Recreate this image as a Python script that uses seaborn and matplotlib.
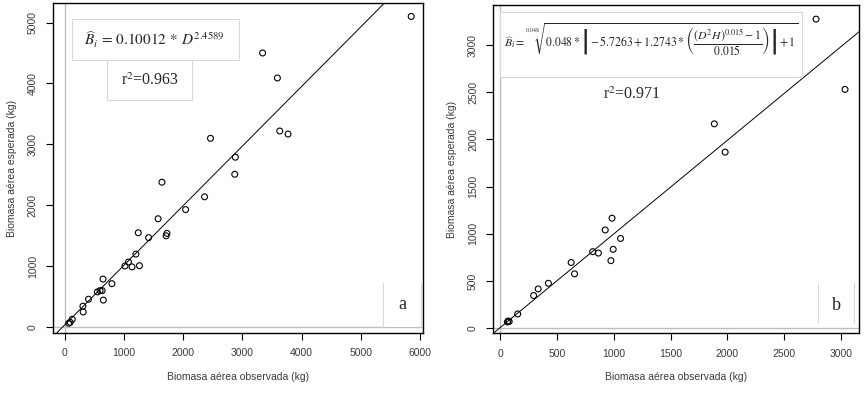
import numpy as np
import pandas as pd
import matplotlib
matplotlib.use('Agg')
import matplotlib.pyplot as plt
import seaborn as sns

# panel a: observed vs expected biomass (kg)
obs_a = [5850, 3340, 3590, 3630, 3770, 2460, 2880, 2870, 2360, 2040, 1640, 1575,
         1725, 1710, 1240, 1415, 1200, 1075, 1015, 1135, 1260, 645, 795, 550, 595,
         630, 650, 400, 305, 310, 125, 90, 65]
esp_a = [5100, 4500, 4090, 3220, 3170, 3100, 2790, 2510, 2140, 1930, 2380, 1780,
         1540, 1500, 1550, 1470, 1200, 1070, 1005, 990, 1010, 790, 715, 580, 600,
         600, 445, 460, 345, 250, 130, 80, 65]
# panel b
obs_b = [2780, 3035, 1885, 1980, 985, 925, 1060, 995, 815, 865, 975, 625, 655,
         425, 335, 295, 155, 80, 65, 70]
esp_b = [3275, 2530, 2165, 1865, 1165, 1040, 950, 835, 810, 795, 715, 695, 575,
         475, 415, 345, 150, 70, 65, 75]

# fitted lines (intercept, slope)
line_a = (40, 0.978)
line_b = (5, 0.993)

eq_a = r'$\widehat{B}_i\, =\, 0.10012\, *\, D^{2.4589}$'
eq_b = (r'$\widehat{B}_i = \sqrt[0.048]{0.048 * \left|-5.7263 + 1.2743 * '
        r'\left(\dfrac{(D^2H)^{0.015} - 1}{0.015}\right)\right| + 1}$')
r2_a = 'r$^2$=0.963'
r2_b = 'r$^2$=0.971'

sns.set_style('white')
plt.rcParams['font.family'] = ['Liberation Sans Narrow', 'Liberation Sans', 'DejaVu Sans']
plt.rcParams['mathtext.fontset'] = 'stix'

fig = plt.figure(figsize=(8.66, 3.98), dpi=100)
ax1 = fig.add_axes([0.0612, 0.1633, 0.4273, 0.8291])
ax2 = fig.add_axes([0.5696, 0.1626, 0.4226, 0.8249])

txt = '#3a3a3a'
box = '#d8d8d8'
serif = ['Liberation Serif', 'DejaVu Serif']


def panel(ax, x, y, line, xlim, ylim, xt, yt):
    ax.axhline(0, color='#bdbdbd', lw=1.0, zorder=1)
    ax.axvline(0, color='#bdbdbd', lw=1.0, zorder=1)
    ax.axline((0, line[0]), slope=line[1], color='black', lw=0.7, zorder=2)
    df = pd.DataFrame({'obs': x, 'esp': y})
    sns.scatterplot(data=df, x='obs', y='esp', ax=ax, marker='o', s=18,
                    facecolor='none', edgecolor='black', linewidth=0.8, zorder=3)
    ax.set_xlim(*xlim)
    ax.set_ylim(*ylim)
    ax.set_xticks(xt)
    ax.set_yticks(yt)
    ax.tick_params(direction='out', length=5, width=0.8, color='black',
                   labelsize=7.5, labelcolor=txt, pad=6, bottom=True, left=True)
    ax.tick_params(axis='y', labelrotation=90)
    for lab in ax.get_yticklabels():
        lab.set_va('center')
    for s in ax.spines.values():
        s.set_color('black')
        s.set_linewidth(1.0)
    ax.set_xlabel('Biomasa aérea observada (kg)', fontsize=7.5, color=txt, labelpad=10)
    ax.set_ylabel('Biomasa aérea esperada (kg)', fontsize=7.5, color=txt, labelpad=8)


panel(ax1, obs_a, esp_a, line_a, (-200, 6050), (-95, 5320),
      range(0, 6001, 1000), range(0, 5001, 1000))
panel(ax2, obs_b, esp_b, line_b, (-60, 3160), (-55, 3425),
      range(0, 3001, 500), range(0, 3001, 500))


def rect(ax, x0, x1, y0, y1, sides='lrtb'):
    ax.add_patch(plt.Rectangle((x0, y0), x1 - x0, y1 - y0, transform=ax.transAxes,
                               fc='white', ec='none', zorder=4))
    segs = {'l': ([x0, x0], [y0, y1]), 'r': ([x1, x1], [y0, y1]),
            't': ([x0, x1], [y1, y1]), 'b': ([x0, x1], [y0, y0])}
    for s in sides:
        ax.plot(*segs[s], transform=ax.transAxes, color=box, lw=0.8, zorder=5)


# panel a annotations
rect(ax1, 0.051, 0.503, 0.827, 0.952)
rect(ax1, 0.146, 0.376, 0.706, 0.827, 'lrb')
ax1.text(0.275, 0.888, eq_a, transform=ax1.transAxes, ha='center', va='center',
         fontsize=11, zorder=6)
ax1.text(0.262, 0.765, r2_a, transform=ax1.transAxes, ha='center', va='center',
         fontsize=11.5, family=serif, zorder=6)
rect(ax1, 0.892, 0.995, 0.018, 0.152, 'lr')
ax1.text(0.943, 0.085, 'a', transform=ax1.transAxes, ha='center', va='center',
         fontsize=13, family=serif, zorder=6)

# panel b annotations
rect(ax2, 0.018, 0.843, 0.781, 0.979)
rect(ax2, 0.275, 0.518, 0.70, 0.781, '')
ax2.text(0.43, 0.895, eq_b, transform=ax2.transAxes, ha='center', va='center',
         fontsize=8.5, zorder=6)
ax2.text(0.379, 0.726, r2_b, transform=ax2.transAxes, ha='center', va='center',
         fontsize=11.5, family=serif, zorder=6)
rect(ax2, 0.887, 0.985, 0.031, 0.153, 'lr')
ax2.text(0.937, 0.086, 'b', transform=ax2.transAxes, ha='center', va='center',
         fontsize=13, family=serif, zorder=6)

fig.savefig('out.png', dpi=100)
